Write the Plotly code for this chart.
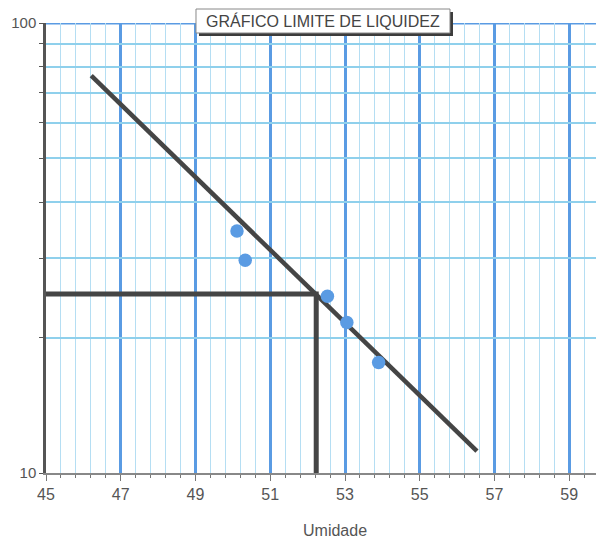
import plotly.graph_objects as go

# data
umidade = [50.11, 50.33, 52.53, 53.05, 53.90]
golpes = [34.5, 29.7, 24.7, 21.6, 17.6]
trend_x = [46.21, 56.53]
trend_y = [76.4, 11.19]
ll_x = 52.23       # liquid limit (moisture)
ll_y = 25          # 25 blows
x_min, x_max = 45, 59.93
y_ticks = [10, 20, 30, 40, 50, 60, 70, 80, 90, 100]
y_labels = ["10", "", "", "", "", "", "", "", "", "100"]
title_text = "GRÁFICO LIMITE DE LIQUIDEZ"
x_title = "Umidade"

FONT = "Liberation Sans, Arial"

fig = go.Figure()

# liquid-limit construction lines
fig.add_trace(go.Scatter(x=[x_min, ll_x, ll_x], y=[ll_y, ll_y, y_ticks[0]],
                         mode="lines", line=dict(color="#454545", width=5),
                         hoverinfo="skip", showlegend=False, cliponaxis=False))
# trend line
fig.add_trace(go.Scatter(x=trend_x, y=trend_y, mode="lines",
                         line=dict(color="#454545", width=4.5),
                         hoverinfo="skip", showlegend=False))
# points
fig.add_trace(go.Scatter(x=umidade, y=golpes, mode="markers",
                         marker=dict(color="#5a9be3", size=13.5),
                         showlegend=False))

# thick top gridline at 100
fig.add_shape(type="line", xref="x", yref="y", x0=x_min, x1=x_max, y0=100, y1=100,
              line=dict(color="#5a9be3", width=3), layer="below")

fig.update_xaxes(
    range=[x_min, x_max], tick0=45, dtick=2,
    showgrid=True, gridcolor="#5a9be3", gridwidth=3,
    minor=dict(dtick=0.4, tick0=45, showgrid=True, gridcolor="#b5def3", gridwidth=1,
               ticks="outside", ticklen=3, tickcolor="#777"),
    ticks="outside", ticklen=6, tickcolor="#777",
    showline=True, linecolor="#888", linewidth=1.5,
    tickfont=dict(family=FONT, size=16, color="#555"),
    automargin=False, zeroline=False,
)
fig.update_yaxes(
    type="log", range=[1, 2],
    tickvals=y_ticks, ticktext=y_labels,
    showgrid=True, gridcolor="#8fd0ec", gridwidth=1.5,
    ticks="outside", ticklen=4, tickcolor="#555",
    showline=True, linecolor="#555", linewidth=2.5,
    tickfont=dict(family=FONT, size=15, color="#555"),
    automargin=False, zeroline=False,
)

# title box with shadow (pixel-sized shapes anchored at the plot top)
cx = 0.4964
fig.add_shape(type="rect", xref="paper", yref="paper", xsizemode="pixel", ysizemode="pixel",
              xanchor=cx, yanchor=1, x0=-124, x1=130, y0=-13, y1=11,
              fillcolor="#3c3c3c", line=dict(width=0), layer="above")
fig.add_shape(type="rect", xref="paper", yref="paper", xsizemode="pixel", ysizemode="pixel",
              xanchor=cx, yanchor=1, x0=-127, x1=127, y0=-10, y1=14,
              fillcolor="white", line=dict(color="#888", width=1), layer="above")
fig.add_annotation(xref="paper", yref="paper", x=cx, y=1.0, xanchor="center", yanchor="middle",
                   text=title_text, showarrow=False, yshift=2,
                   font=dict(family=FONT, size=16, color="#444"))

# x axis title
fig.add_annotation(xref="paper", yref="paper", x=0.518, y=0, xanchor="center", yanchor="middle",
                   text=x_title, showarrow=False, yshift=-57,
                   font=dict(family=FONT, size=16, color="#555"))

# page body has an 8px margin, so the figure is sized/offset to fill the 604x540 window
fig.update_layout(
    width=596, height=532,
    margin=dict(l=38, r=0, t=15, b=67),
    plot_bgcolor="white", paper_bgcolor="white",
    showlegend=False,
)
fig.write_html("out.html")
